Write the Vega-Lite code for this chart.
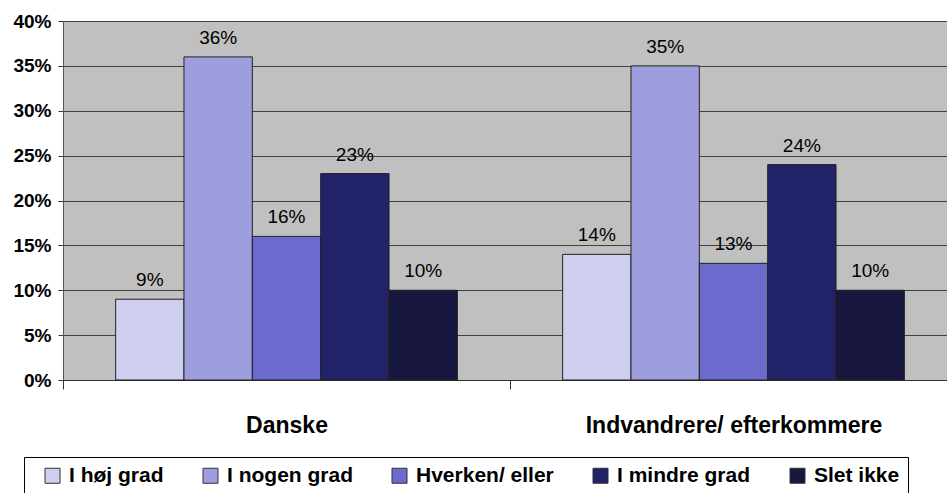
{
  "$schema": "https://vega.github.io/schema/vega-lite/v6.json",
  "width": 884,
  "height": 359,
  "autosize": {"type": "none"},
  "padding": {"left": 63, "top": 21, "right": 0, "bottom": 113},
  "background": "white",
  "config": {
    "view": {"fill": "#C0C0C0", "stroke": null},
    "font": "Liberation Sans"
  },
  "data": {
    "values": [
      {"group": "Danske", "cat": "I høj grad", "value": 0.09},
      {"group": "Danske", "cat": "I nogen grad", "value": 0.36},
      {"group": "Danske", "cat": "Hverken/ eller", "value": 0.16},
      {"group": "Danske", "cat": "I mindre grad", "value": 0.23},
      {"group": "Danske", "cat": "Slet ikke", "value": 0.10},
      {"group": "Indvandrere/ efterkommere", "cat": "I høj grad", "value": 0.14},
      {"group": "Indvandrere/ efterkommere", "cat": "I nogen grad", "value": 0.35},
      {"group": "Indvandrere/ efterkommere", "cat": "Hverken/ eller", "value": 0.13},
      {"group": "Indvandrere/ efterkommere", "cat": "I mindre grad", "value": 0.24},
      {"group": "Indvandrere/ efterkommere", "cat": "Slet ikke", "value": 0.10}
    ]
  },
  "encoding": {
    "x": {
      "field": "group",
      "type": "nominal",
      "sort": ["Danske", "Indvandrere/ efterkommere"],
      "scale": {"range": [0, 894], "paddingInner": 0, "paddingOuter": 0},
      "axis": {
        "title": null,
        "labelAngle": 0,
        "labelFontSize": 23,
        "labelFontWeight": "bold",
        "labelColor": "#000000",
        "labelBaseline": "alphabetic",
        "labelPadding": 43,
        "labelLimit": 0,
        "tickBand": "extent",
        "tickSize": 9,
        "tickColor": "#333333",
        "domainColor": "#333333",
        "grid": false
      }
    },
    "xOffset": {
      "field": "cat",
      "type": "nominal",
      "sort": ["I høj grad", "I nogen grad", "Hverken/ eller", "I mindre grad", "Slet ikke"],
      "scale": {"paddingOuter": 0.77, "paddingInner": 0}
    },
    "y": {
      "field": "value",
      "type": "quantitative",
      "scale": {"domain": [0, 0.4]},
      "axis": {
        "title": null,
        "values": [0, 0.05, 0.1, 0.15, 0.2, 0.25, 0.3, 0.35, 0.4],
        "format": ".0%",
        "labelFontSize": 19,
        "labelFontWeight": "bold",
        "labelColor": "#000000",
        "labelPadding": 7,
        "tickSize": 5,
        "tickColor": "#333333",
        "domainColor": "#555555",
        "gridColor": "#404040",
        "gridOpacity": 1
      }
    }
  },
  "layer": [
    {
      "mark": {"type": "bar", "stroke": "#222222", "strokeWidth": 1},
      "encoding": {
        "color": {
          "field": "cat",
          "type": "nominal",
          "sort": ["I høj grad", "I nogen grad", "Hverken/ eller", "I mindre grad", "Slet ikke"],
          "scale": {"range": ["#CECEEE", "#9E9EDE", "#6B6BCD", "#222268", "#17173F"]},
          "legend": {
            "orient": "none",
            "legendX": -39,
            "legendY": 436,
            "direction": "horizontal",
            "title": " ",
            "titleOrient": "left",
            "titlePadding": 10,
            "titleFontSize": 21,
            "strokeColor": "#000000",
            "padding": 8,
            "symbolType": "square",
            "symbolSize": 225,
            "symbolStrokeColor": "#333333",
            "symbolStrokeWidth": 1,
            "symbolOpacity": 1,
            "labelFontSize": 21,
            "labelFontWeight": "bold",
            "labelColor": "#000000",
            "labelOffset": 6,
            "labelLimit": 0,
            "columnPadding": 36
          }
        }
      }
    },
    {
      "mark": {"type": "text", "dy": -13, "baseline": "alphabetic", "fontSize": 19, "color": "#000000"},
      "encoding": {
        "text": {"field": "value", "type": "quantitative", "format": ".0%"}
      }
    }
  ]
}
